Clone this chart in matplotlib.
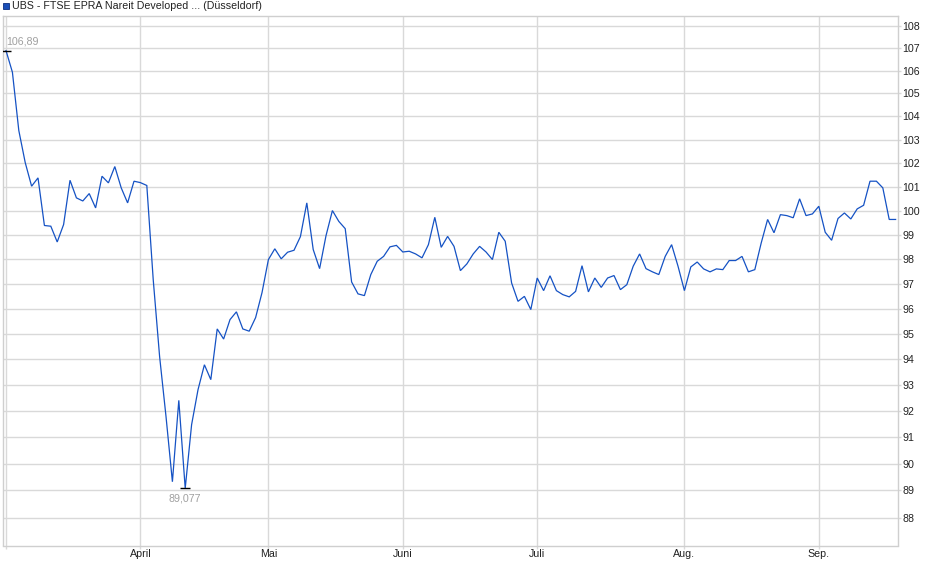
import matplotlib
matplotlib.use('Agg')
import matplotlib.pyplot as plt
from matplotlib.ticker import FixedLocator, FixedFormatter, NullLocator
from matplotlib.patches import Rectangle
import numpy as np

plt.rcParams['font.family'] = ['Liberation Sans', 'DejaVu Sans']

# --- data (trading-day index -> price) ---
values = [
    106.89, 105.93, 103.39, 102.02, 101.02, 101.37, 99.38, 99.35, 98.70, 99.42,
    101.27, 100.53, 100.40, 100.71, 100.11, 101.44, 101.16, 101.85, 100.95, 100.32,
    101.23, 101.17, 101.05, 97.17, 94.10, 91.78, 89.32, 92.40, 89.077, 91.47,
    92.81, 93.78, 93.20, 95.19, 94.79, 95.56, 95.87, 95.19, 95.10, 95.64,
    96.64, 97.98, 98.42, 98.01, 98.28, 98.36, 98.92, 100.32, 98.39, 97.61,
    98.96, 100.00, 99.55, 99.25, 97.07, 96.59, 96.52, 97.37, 97.91, 98.11,
    98.50, 98.56, 98.29, 98.32, 98.21, 98.05, 98.59, 99.72, 98.48, 98.93,
    98.52, 97.53, 97.80, 98.21, 98.52, 98.29, 97.98, 99.10, 98.73, 97.03,
    96.29, 96.49, 95.96, 97.23, 96.72, 97.32, 96.72, 96.56, 96.47, 96.69,
    97.73, 96.67, 97.23, 96.85, 97.23, 97.33, 96.76, 96.96, 97.71, 98.21,
    97.61, 97.48, 97.37, 98.11, 98.59, 97.71, 96.72, 97.68, 97.88, 97.60,
    97.48, 97.60, 97.57, 97.94, 97.94, 98.11, 97.48, 97.57, 98.66, 99.63,
    99.08, 99.83, 99.79, 99.70, 100.49, 99.79, 99.86, 100.18, 99.10, 98.77,
    99.67, 99.90, 99.65, 100.07, 100.22, 101.23, 101.23, 100.95, 99.63, 99.63,
]
month_labels = ['', 'April', 'Mai', 'Juni', 'Juli', 'Aug.', 'Sep.']
month_pos = [0, 21, 41, 62, 83, 106, 127]
y_ticks = list(range(88, 109))
title = 'UBS - FTSE EPRA Nareit Developed ... (Düsseldorf)'
max_label = '106,89'
min_label = '89,077'

W, H = 940, 579
fig = plt.figure(figsize=(W / 100, H / 100), dpi=100)
left, right, top, bottom = 3, 898.3, 16, 545.5
ax = fig.add_axes([left / W, 1 - bottom / H, (right - left) / W, (bottom - top) / H])

line_color = '#1552c4'
grid_color = '#d9d9d9'

x = np.arange(len(values))
ax.plot(x, values, color=line_color, lw=0.9, zorder=3, solid_joinstyle='miter')

ax.set_yscale('log')
ax.set_ylim(86.98, 108.44)
ax.set_xlim(-0.47, 139.42)

ax.yaxis.set_major_locator(FixedLocator(y_ticks))
ax.yaxis.set_major_formatter(FixedFormatter([str(t) for t in y_ticks]))
ax.yaxis.set_minor_locator(NullLocator())
ax.yaxis.tick_right()

ax.xaxis.set_major_locator(FixedLocator(month_pos))
ax.xaxis.set_major_formatter(FixedFormatter(month_labels))
ax.xaxis.set_minor_locator(NullLocator())

ax.tick_params(axis='both', which='major', labelsize=7.7, colors=grid_color,
               labelcolor='#222222', length=2, width=1)
ax.tick_params(axis='y', pad=1.0)
ax.tick_params(axis='x', pad=0.6)

ax.grid(True, color=grid_color, lw=1, zorder=0)
for s in ax.spines.values():
    s.set_color('#cfcfcf')
    s.set_linewidth(1)

# max / min markers
imax = int(np.argmax(values))
imin = int(np.argmin(values))
ax.plot([imax], [values[imax]], marker='_', color='black', ms=7, mew=1, zorder=4)
ax.plot([imin], [values[imin]], marker='_', color='black', ms=7, mew=1, zorder=4)
ax.annotate(max_label, (imax, values[imax]), xytext=(0.5, 6.2), textcoords='offset points',
            ha='left', va='center', fontsize=7.7, color='#a0a0a0')
ax.annotate(min_label, (imin, values[imin]), xytext=(0, -7.0), textcoords='offset points',
            ha='center', va='center', fontsize=7.7, color='#a0a0a0')

# legend/title
fig.patches.append(Rectangle((2.7 / W, 1 - 9.3 / H), 6.5 / W, 6.5 / H,
                             transform=fig.transFigure, facecolor='#1a4fb8',
                             edgecolor='#0d2f80', lw=0.6))
fig.text(11.5 / W, 1 - 6 / H, title, ha='left', va='center', fontsize=7.7, color='#222222')

fig.savefig('out.png', dpi=100)
